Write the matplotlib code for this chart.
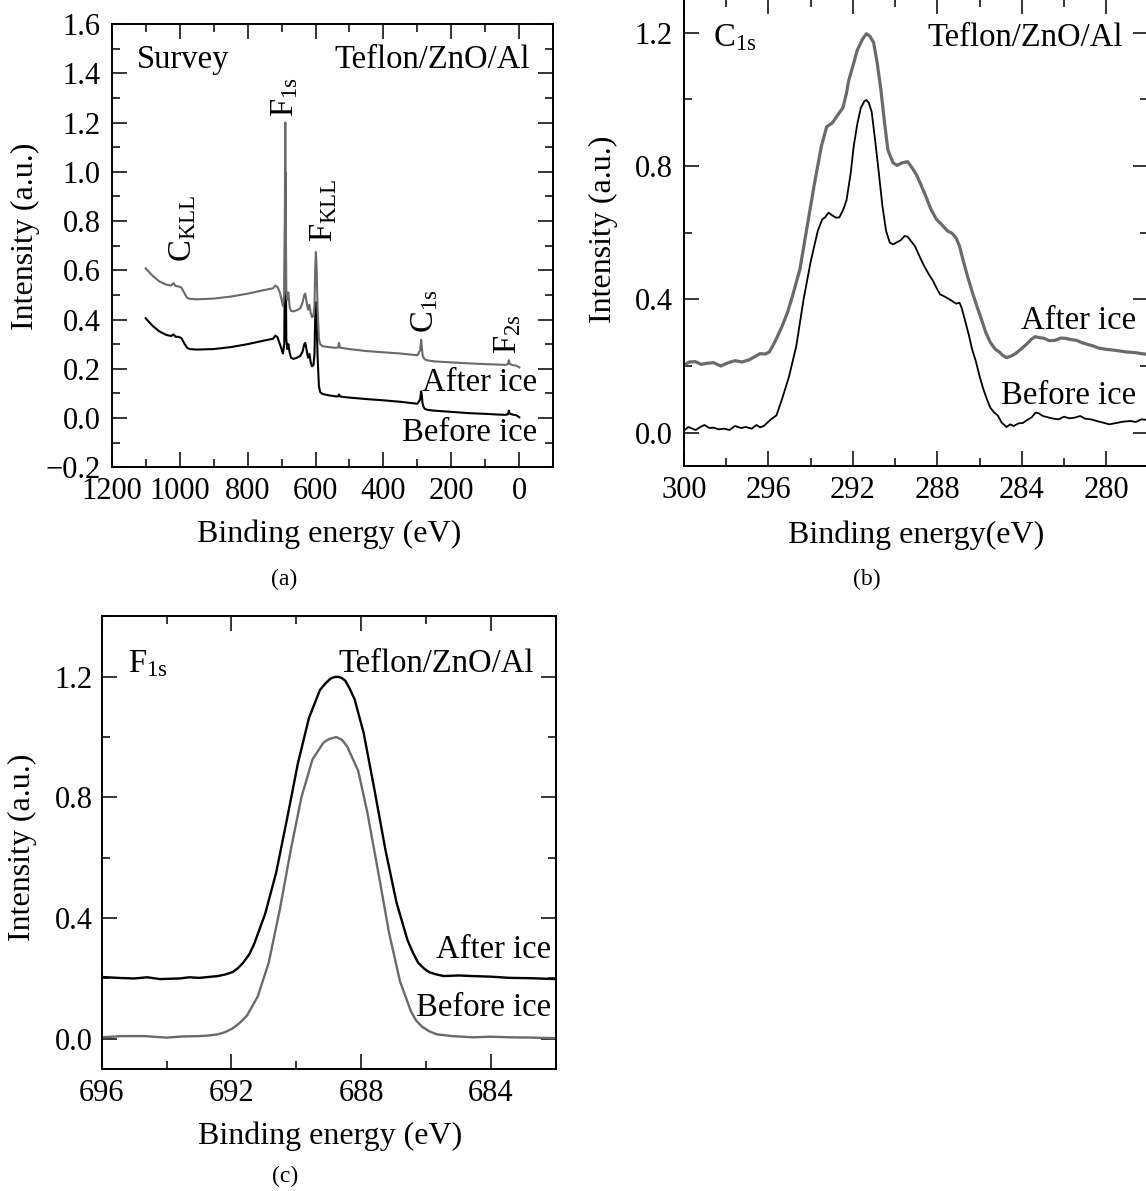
import matplotlib
matplotlib.use("Agg")
import matplotlib.pyplot as plt
from matplotlib.ticker import MultipleLocator

plt.rcParams['font.family'] = ['Liberation Serif', 'DejaVu Serif']
plt.rcParams['mathtext.fontset'] = 'custom'
plt.rcParams['mathtext.rm'] = 'Liberation Serif'
plt.rcParams['mathtext.it'] = 'Liberation Serif:italic'
plt.rcParams['mathtext.bf'] = 'Liberation Serif:bold'

# ---------------- data: (a) survey ----------------
survey_energy = [1100, 1080, 1060, 1040, 1025, 1018, 1012, 1005, 995, 985, 978, 970, 950, 900,
                 850, 800, 750, 725, 718, 712, 705, 700, 696, 692, 690, 689, 688, 686, 683,
                 680, 676, 672, 665, 655, 645, 638, 633, 630, 626, 622, 618, 614, 610, 606,
                 603, 601, 599, 597, 594, 590, 586, 580, 560, 540, 533, 531, 528, 520, 500,
                 450, 400, 350, 300, 292, 289, 287, 285, 282, 278, 270, 250, 200, 150, 100,
                 60, 40, 33, 31, 28, 20, 10, 5, 0]
survey_before = [0.405, 0.375, 0.352, 0.338, 0.333, 0.340, 0.330, 0.330, 0.325, 0.300, 0.285,
                 0.280, 0.278, 0.280, 0.288, 0.300, 0.315, 0.322, 0.335, 0.328, 0.300, 0.280,
                 0.262, 0.300, 0.700, 1.000, 0.700, 0.320, 0.280, 0.300, 0.265, 0.245, 0.240,
                 0.245, 0.252, 0.270, 0.300, 0.305, 0.275, 0.245, 0.260, 0.225, 0.210, 0.215,
                 0.260, 0.400, 0.470, 0.420, 0.250, 0.130, 0.105, 0.098, 0.092, 0.088, 0.088,
                 0.096, 0.088, 0.086, 0.083, 0.077, 0.072, 0.066, 0.058, 0.075, 0.108, 0.090,
                 0.060, 0.045, 0.037, 0.033, 0.030, 0.025, 0.020, 0.017, 0.014, 0.013, 0.016,
                 0.030, 0.018, 0.014, 0.012, 0.008, 0.003]
survey_after = [0.608, 0.578, 0.555, 0.542, 0.538, 0.548, 0.536, 0.535, 0.530, 0.505, 0.488,
                0.484, 0.482, 0.485, 0.493, 0.505, 0.520, 0.527, 0.538, 0.532, 0.510, 0.480,
                0.455, 0.500, 0.900, 1.200, 0.900, 0.520, 0.480, 0.510, 0.450, 0.435, 0.433,
                0.438, 0.445, 0.470, 0.500, 0.505, 0.470, 0.440, 0.460, 0.425, 0.410, 0.415,
                0.460, 0.600, 0.674, 0.620, 0.450, 0.320, 0.300, 0.292, 0.288, 0.285, 0.287,
                0.305, 0.286, 0.284, 0.280, 0.272, 0.267, 0.262, 0.255, 0.275, 0.318, 0.290,
                0.258, 0.245, 0.238, 0.234, 0.230, 0.226, 0.222, 0.219, 0.217, 0.216, 0.220,
                0.235, 0.220, 0.215, 0.213, 0.210, 0.206]

# ---------------- data: (b) C1s ----------------
c1s_after_energy = [300.0, 299.75, 299.45, 299.2, 298.94, 298.6, 298.26, 297.9, 297.58, 297.25,
                    296.9, 296.65, 296.4, 296.15, 295.96, 295.8, 295.6, 295.37, 295.1, 294.86,
                    294.51, 294.17, 293.83, 293.49, 293.24, 292.98, 292.75, 292.47, 292.3,
                    292.2, 292.0, 291.79, 291.55, 291.36, 291.2, 291.02, 290.85, 290.68,
                    290.5, 290.34, 290.1, 289.91, 289.65, 289.4, 289.2, 288.98, 288.75,
                    288.55, 288.3, 288.04, 287.8, 287.53, 287.3, 287.1, 286.95, 286.76,
                    286.55, 286.34, 286.1, 285.91, 285.7, 285.49, 285.25, 285.06, 284.9,
                    284.72, 284.5, 284.3, 284.05, 283.78, 283.55, 283.36, 283.15, 282.93,
                    282.7, 282.42, 282.15, 281.91, 281.65, 281.4, 281.15, 280.89, 280.6,
                    280.37, 280.0, 279.69, 279.35, 279.01, 278.6, 278.33, 278.0]
c1s_after = [0.202, 0.212, 0.213, 0.205, 0.208, 0.210, 0.200, 0.210, 0.216, 0.212,
             0.219, 0.228, 0.237, 0.236, 0.242, 0.26, 0.285, 0.317, 0.36, 0.41,
             0.49, 0.617, 0.744, 0.86, 0.918, 0.929, 0.95, 0.975, 1.02,
             1.056, 1.1, 1.148, 1.18, 1.197, 1.19, 1.171, 1.11, 1.033,
             0.93, 0.848, 0.81, 0.802, 0.81, 0.813, 0.795, 0.773, 0.74,
             0.71, 0.67, 0.64, 0.625, 0.606, 0.598, 0.583, 0.56, 0.513,
             0.465, 0.421, 0.375, 0.34, 0.30, 0.271, 0.25, 0.242, 0.232,
             0.225, 0.23, 0.237, 0.25, 0.265, 0.28, 0.288, 0.285, 0.283,
             0.276, 0.277, 0.284, 0.283, 0.279, 0.277, 0.27, 0.265, 0.26,
             0.254, 0.25, 0.248, 0.245, 0.242, 0.24, 0.237, 0.235]
c1s_before_energy = [300.0, 299.8, 299.6, 299.45, 299.2, 299.03, 298.8, 298.6, 298.35, 298.1,
                     297.85, 297.58, 297.3, 297.07, 296.8, 296.56, 296.4, 296.22, 296.05,
                     295.88, 295.62, 295.37, 295.03, 294.68, 294.34, 294.0, 293.66, 293.45,
                     293.32, 293.15, 292.98, 292.8, 292.64, 292.45, 292.3, 292.1, 291.96,
                     291.78, 291.62, 291.45, 291.36, 291.25, 291.11, 290.95, 290.77, 290.6,
                     290.43, 290.25, 290.09, 289.9, 289.74, 289.55, 289.4, 289.25, 289.06,
                     288.85, 288.64, 288.4, 288.21, 288.0, 287.87, 287.7, 287.53, 287.3,
                     287.1, 286.95, 286.85, 286.7, 286.51, 286.35, 286.17, 286.0, 285.83,
                     285.65, 285.49, 285.3, 285.14, 284.95, 284.72, 284.55, 284.38, 284.15,
                     283.95, 283.75, 283.53, 283.35, 283.19, 283.0, 282.76, 282.5, 282.25,
                     282.0, 281.74, 281.5, 281.23, 281.0, 280.72, 280.45, 280.2, 279.85,
                     279.52, 279.2, 278.84, 278.6, 278.33, 278.0]
c1s_before = [0.006, 0.017, 0.012, 0.008, 0.018, 0.023, 0.014, 0.015, 0.010, 0.012,
              0.008, 0.020, 0.014, 0.017, 0.012, 0.023, 0.016, 0.020, 0.030,
              0.040, 0.052, 0.098, 0.167, 0.26, 0.398, 0.513, 0.606, 0.64,
              0.646, 0.66, 0.652, 0.645, 0.646, 0.67, 0.698, 0.78, 0.86,
              0.93, 0.975, 0.995, 0.998, 0.99, 0.963, 0.88, 0.779, 0.68,
              0.606, 0.57, 0.565, 0.572, 0.577, 0.59, 0.588, 0.575, 0.56,
              0.53, 0.502, 0.475, 0.456, 0.43, 0.415, 0.41, 0.404, 0.395,
              0.387, 0.39, 0.375, 0.34, 0.294, 0.25, 0.213, 0.17, 0.133,
              0.10, 0.075, 0.06, 0.052, 0.03, 0.017, 0.025, 0.020, 0.028,
              0.029, 0.038, 0.046, 0.06, 0.058, 0.05, 0.046, 0.042, 0.04,
              0.048, 0.043, 0.045, 0.05, 0.042, 0.04, 0.035, 0.031, 0.025,
              0.029, 0.033, 0.035, 0.032, 0.04, 0.038]

# ---------------- data: (c) F1s ----------------
f1s_after_energy = [696.0, 695.5, 695.0, 694.6, 694.2, 693.6, 693.3, 692.99, 692.7, 692.42,
                    692.2, 691.97, 691.8, 691.64, 691.45, 691.3, 690.96, 690.62, 690.29,
                    689.95, 689.61, 689.27, 689.1, 688.94, 688.82, 688.71, 688.6, 688.49,
                    688.35, 688.2, 687.92, 687.59, 687.25, 686.91, 686.57, 686.4, 686.24,
                    686.05, 685.9, 685.7, 685.45, 685.0, 684.55, 684.0, 683.42, 682.8, 682.0]
f1s_after = [0.205, 0.202, 0.200, 0.204, 0.198, 0.200, 0.204, 0.202, 0.205, 0.208,
             0.213, 0.221, 0.234, 0.252, 0.280, 0.314, 0.414, 0.551, 0.726,
             0.913, 1.063, 1.156, 1.178, 1.194, 1.199, 1.200, 1.196, 1.187,
             1.160, 1.125, 1.013, 0.826, 0.626, 0.452, 0.327, 0.285, 0.252,
             0.232, 0.221, 0.214, 0.208, 0.210, 0.208, 0.206, 0.202, 0.201, 0.198]
f1s_before_energy = [696.0, 695.4, 694.67, 694.0, 693.5, 692.99, 692.7, 692.42, 692.2, 691.97,
                     691.75, 691.52, 691.19, 690.85, 690.51, 690.17, 689.84, 689.5, 689.16,
                     689.0, 688.77, 688.6, 688.43, 688.09, 687.81, 687.47, 687.14, 686.8,
                     686.46, 686.3, 686.12, 685.9, 685.67, 685.2, 684.55, 684.0, 683.42,
                     682.7, 682.0]
f1s_before = [0.005, 0.009, 0.009, 0.004, 0.008, 0.009, 0.011, 0.015, 0.022, 0.034,
              0.052, 0.077, 0.14, 0.252, 0.427, 0.626, 0.801, 0.926, 0.982,
              0.993, 1.0, 0.992, 0.969, 0.888, 0.751, 0.551, 0.352, 0.19,
              0.09, 0.06, 0.04, 0.025, 0.015, 0.009, 0.005, 0.007, 0.005,
              0.004, 0.002]

GRAY = '#6a6a6a'
TICK_FS = 22
LABEL_FS = 23
TEXT_FS = 23.5

W, H = 1146, 1191
fig = plt.figure(figsize=(W / 100, H / 100), dpi=100)


def box(x0, y_top, x1, y_bot):
    return [x0 / W, 1 - y_bot / H, (x1 - x0) / W, (y_bot - y_top) / H]


def style(ax, xmaj, xmin, ymaj, ymin, ypad):
    ax.xaxis.set_major_locator(MultipleLocator(xmaj))
    ax.xaxis.set_minor_locator(MultipleLocator(xmin))
    ax.yaxis.set_major_locator(MultipleLocator(ymaj))
    ax.yaxis.set_minor_locator(MultipleLocator(ymin))
    ax.tick_params(which='both', direction='in', top=True, right=True, width=1.1)
    ax.tick_params(which='major', length=11)
    ax.tick_params(which='minor', length=5.5)
    ax.tick_params(axis='x', which='major', labelsize=TICK_FS, pad=7)
    ax.tick_params(axis='y', which='major', labelsize=TICK_FS, pad=ypad)
    for s in ax.spines.values():
        s.set_linewidth(1.4)


# ---------- (a) ----------
axa = fig.add_axes(box(111.7, 24, 553.3, 467.3))
axa.plot(survey_energy, survey_before, color='black', lw=1.5)
axa.plot(survey_energy, survey_after, color=GRAY, lw=1.5)
axa.set_xlim(1200, -100)
axa.set_ylim(-0.2, 1.6)
style(axa, 200, 100, 0.2, 0.1, 8)
axa.set_xlabel('Binding energy (eV)', fontsize=LABEL_FS)
axa.set_ylabel('Intensity (a.u.)', fontsize=LABEL_FS)
axa.xaxis.set_label_coords(0.492, -0.118)
axa.yaxis.set_label_coords(-0.162, 0.52)
axa.text(0.057, 0.919, 'Survey', transform=axa.transAxes, fontsize=TEXT_FS, ha='left', va='center')
axa.text(0.947, 0.919, 'Teflon/ZnO/Al', transform=axa.transAxes, fontsize=TEXT_FS, ha='right', va='center')
axa.text(0.392, 0.835, r'F$_{\mathrm{1s}}$', transform=axa.transAxes, fontsize=TEXT_FS, rotation=90, ha='center', va='center')
axa.text(0.162, 0.538, r'C$_{\mathrm{KLL}}$', transform=axa.transAxes, fontsize=TEXT_FS, rotation=90, ha='center', va='center')
axa.text(0.48, 0.58, r'F$_{\mathrm{KLL}}$', transform=axa.transAxes, fontsize=TEXT_FS, rotation=90, ha='center', va='center')
axa.text(0.71, 0.353, r'C$_{\mathrm{1s}}$', transform=axa.transAxes, fontsize=TEXT_FS, rotation=90, ha='center', va='center')
axa.text(0.898, 0.301, r'F$_{\mathrm{2s}}$', transform=axa.transAxes, fontsize=TEXT_FS, rotation=90, ha='center', va='center')
axa.text(0.963, 0.19, 'After ice', transform=axa.transAxes, fontsize=TEXT_FS, ha='right', va='center')
axa.text(0.963, 0.077, 'Before ice', transform=axa.transAxes, fontsize=TEXT_FS, ha='right', va='center')

# ---------- (b) ----------
axb = fig.add_axes(box(684, -0.6, 1148.4, 466))
axb.plot(c1s_after_energy, c1s_after, color=GRAY, lw=2.3)
axb.plot(c1s_before_energy, c1s_before, color='black', lw=1.3)
axb.set_xlim(300, 278)
axb.set_ylim(-0.1, 1.3)
style(axb, 4, 2, 0.4, 0.2, 8)
axb.set_xlabel('Binding energy(eV)', fontsize=LABEL_FS)
axb.set_ylabel('Intensity (a.u.)', fontsize=LABEL_FS)
axb.xaxis.set_label_coords(0.50, -0.117)
axb.yaxis.set_label_coords(-0.142, 0.508)
axb.text(0.0625, 0.917, r'C$_{\mathrm{1s}}$', transform=axb.transAxes, fontsize=TEXT_FS, ha='left', va='center')
axb.text(0.946, 0.917, 'Teflon/ZnO/Al', transform=axb.transAxes, fontsize=TEXT_FS, ha='right', va='center')
axb.text(0.974, 0.311, 'After ice', transform=axb.transAxes, fontsize=TEXT_FS, ha='right', va='center')
axb.text(0.974, 0.151, 'Before ice', transform=axb.transAxes, fontsize=TEXT_FS, ha='right', va='center')

# ---------- (c) ----------
axc = fig.add_axes(box(101.7, 616.4, 555.7, 1069))
axc.plot(f1s_after_energy, f1s_after, color='black', lw=1.7)
axc.plot(f1s_before_energy, f1s_before, color=GRAY, lw=1.7)
axc.set_xlim(696, 682)
axc.set_ylim(-0.1, 1.4)
style(axc, 4, 2, 0.4, 0.2, 6.5)
axc.set_xlabel('Binding energy (eV)', fontsize=LABEL_FS)
axc.set_ylabel('Intensity (a.u.)', fontsize=LABEL_FS)
axc.xaxis.set_label_coords(0.504, -0.115)
axc.yaxis.set_label_coords(-0.1425, 0.49)
axc.text(0.058, 0.895, r'F$_{\mathrm{1s}}$', transform=axc.transAxes, fontsize=TEXT_FS, ha='left', va='center')
axc.text(0.953, 0.895, 'Teflon/ZnO/Al', transform=axc.transAxes, fontsize=TEXT_FS, ha='right', va='center')
axc.text(0.99, 0.264, 'After ice', transform=axc.transAxes, fontsize=TEXT_FS, ha='right', va='center')
axc.text(0.99, 0.135, 'Before ice', transform=axc.transAxes, fontsize=TEXT_FS, ha='right', va='center')

# panel letters
fig.text(284 / W, 1 - 579 / H, '(a)', fontsize=17, ha='center', va='center')
fig.text(867 / W, 1 - 579 / H, '(b)', fontsize=17, ha='center', va='center')
fig.text(285 / W, 1 - 1176 / H, '(c)', fontsize=17, ha='center', va='center')

fig.savefig('out.png', dpi=100)
